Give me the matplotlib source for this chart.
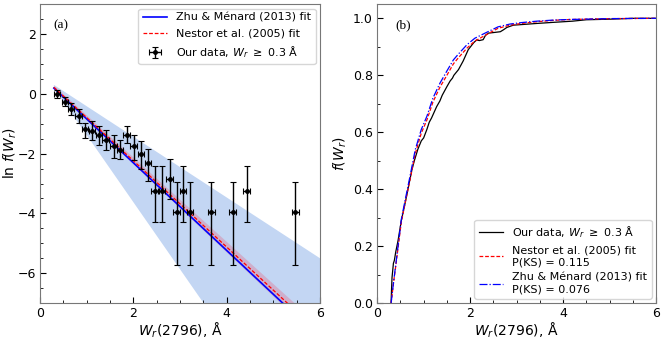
import matplotlib
matplotlib.use('Agg')
from matplotlib import pyplot as plt
from matplotlib.ticker import MultipleLocator
import numpy as np

# panel (a): binned ln f(W_r)
w_bins = [0.37, 0.54, 0.67, 0.83, 0.97, 1.12, 1.27, 1.41, 1.58, 1.72, 1.86, 2.01,
          2.17, 2.32, 2.46, 2.62, 2.78, 2.93, 3.07, 3.22, 3.67, 4.13, 4.43, 5.47]
ln_f = [0.0, -0.26, -0.5, -0.73, -1.18, -1.23, -1.37, -1.53, -1.73, -1.87, -1.37, -1.73,
        -2.0, -2.33, -3.26, -3.26, -2.84, -3.94, -3.26, -3.94, -3.94, -3.94, -3.26, -3.94]
ln_f_hi = [0.13, -0.12, -0.31, -0.51, -0.96, -0.92, -1.07, -1.2, -1.37, -1.53, -1.09, -1.38,
           -1.57, -1.83, -2.42, -2.42, -2.18, -2.96, -2.42, -2.96, -2.96, -2.96, -2.42, -2.96]
ln_f_lo = [-0.14, -0.42, -0.7, -0.96, -1.48, -1.53, -1.72, -1.87, -2.14, -2.18, -1.64, -2.2,
           -2.51, -2.92, -4.29, -4.29, -3.53, -5.72, -4.29, -5.72, -5.72, -5.72, -4.29, -5.72]
w_half = 0.07

fit_x = [0.3, 6.0]
zhu_line = [0.19, -8.17]
nestor_line = [0.22, -8.01]
nestor_band_lo = [0.16, -8.25]
nestor_band_hi = [0.28, -7.77]
zhu_band_lo = [0.2, -12.6]
zhu_band_hi = [0.3, -5.5]

# panel (b): cumulative distributions
cdf_w = [0.30, 0.31, 0.32, 0.35, 0.37, 0.40, 0.45, 0.52, 0.60, 0.70, 0.75, 0.80, 0.875,
         0.95, 1.0, 1.07, 1.12, 1.17, 1.28, 1.35, 1.40, 1.50, 1.57, 1.62, 1.65, 1.75, 1.80,
         1.85, 1.96, 2.08, 2.14, 2.20, 2.28, 2.33, 2.39, 2.50, 2.65, 2.72, 2.79, 2.93,
         3.10, 3.43, 3.80, 4.20, 4.50, 5.00, 5.50, 6.00]
cdf_data = [0.0, 0.05, 0.09, 0.14, 0.15, 0.18, 0.22, 0.29, 0.35, 0.43, 0.47, 0.50, 0.54,
            0.57, 0.58, 0.61, 0.635, 0.65, 0.69, 0.71, 0.73, 0.76, 0.78, 0.79, 0.80, 0.82,
            0.835, 0.85, 0.89, 0.915, 0.924, 0.922, 0.925, 0.94, 0.948, 0.95, 0.953, 0.96,
            0.968, 0.976, 0.978, 0.982, 0.986, 0.99, 0.995, 0.997, 1.0, 1.0]

model_w = [0.30, 0.35, 0.40, 0.52, 0.60, 0.70, 0.82, 0.95, 1.07, 1.20, 1.35, 1.50, 1.64,
           1.75, 1.93, 2.10, 2.32, 2.60, 2.86, 3.10, 3.43, 3.80, 4.15, 5.00, 6.00]
cdf_zhu = [0.0, 0.07, 0.135, 0.294, 0.36, 0.44, 0.539, 0.61, 0.656, 0.72, 0.772, 0.815,
           0.854, 0.875, 0.907, 0.93, 0.948, 0.97, 0.98, 0.985, 0.99, 0.994, 0.996, 0.999, 1.0]
cdf_nestor = [0.0, 0.068, 0.13, 0.285, 0.35, 0.428, 0.525, 0.597, 0.643, 0.706, 0.758, 0.80,
              0.84, 0.862, 0.895, 0.92, 0.94, 0.965, 0.976, 0.982, 0.988, 0.993, 0.996, 0.999, 1.0]

plt.rcParams['font.size'] = 9
plt.rcParams['mathtext.fontset'] = 'dejavusans'

fig = plt.figure(figsize=(6.64, 3.41), dpi=100)
ax1 = fig.add_axes([0.060, 0.111, 0.422, 0.877])
ax2 = fig.add_axes([0.568, 0.111, 0.420, 0.877])

ax1.fill_between(fit_x, zhu_band_lo, zhu_band_hi, color='#c3d6f3', lw=0, zorder=0)
ax1.fill_between(fit_x, nestor_band_lo, nestor_band_hi, color='#d98aa6', alpha=0.5, lw=0, zorder=1)
ax1.plot(fit_x, zhu_line, color='blue', lw=1.2, label='Zhu & Ménard (2013) fit', zorder=2)
ax1.plot(fit_x, nestor_line, color='red', lw=0.9, ls=(0, (3, 1.5)), label='Nestor et al. (2005) fit', zorder=3)
yerr = [np.array(ln_f) - np.array(ln_f_lo), np.array(ln_f_hi) - np.array(ln_f)]
ax1.errorbar(w_bins, ln_f, yerr=yerr, xerr=w_half, fmt='o', color='black', ms=2.5,
             elinewidth=1, capsize=2, capthick=0.8, zorder=4,
             label=r'Our data, $W_r\ \geq\ 0.3$ Å')
ax1.set_xlim(0, 6)
ax1.set_ylim(-7, 3)
ax1.set_xlabel(r'$W_r$(2796), Å', fontsize=10, labelpad=0)
ax1.set_ylabel(r'ln $f(W_r)$', fontsize=10)
ax1.yaxis.set_label_coords(-0.075, 0.5)
ax1.yaxis.set_major_locator(MultipleLocator(2))
ax1.yaxis.set_minor_locator(MultipleLocator(0.5))
ax1.text(0.05, 0.92, '(a)', transform=ax1.transAxes, family='Liberation Serif', fontsize=9.5)
ax1.legend(loc='upper right', fontsize=8, handlelength=2.2, borderaxespad=0.4)

ax2.plot(cdf_w, cdf_data, color='black', lw=0.9, label=r'Our data, $W_r\ \geq\ 0.3$ Å')
ax2.plot(model_w, cdf_nestor, color='red', lw=0.9, ls=(0, (3, 1.5)),
         label='Nestor et al. (2005) fit\nP(KS) = 0.115')
ax2.plot(model_w, cdf_zhu, color='blue', lw=0.9, ls='-.',
         label='Zhu & Ménard (2013) fit\nP(KS) = 0.076')
ax2.set_xlim(0, 6)
ax2.set_ylim(0, 1.05)
ax2.set_xlabel(r'$W_r$(2796), Å', fontsize=10, labelpad=0)
ax2.set_ylabel(r'$f(W_r)$', fontsize=10)
ax2.yaxis.set_label_coords(-0.1, 0.5)
ax2.yaxis.set_major_locator(MultipleLocator(0.2))
ax2.yaxis.set_minor_locator(MultipleLocator(0.1))
ax2.text(0.065, 0.92, '(b)', transform=ax2.transAxes, family='Liberation Serif', fontsize=9.5)
ax2.legend(loc='lower right', fontsize=8, handlelength=2.2, borderaxespad=0.4)

for ax in (ax1, ax2):
    ax.xaxis.set_major_locator(MultipleLocator(2))
    ax.xaxis.set_minor_locator(MultipleLocator(0.5))
    ax.tick_params(which='both', direction='in', labelsize=9, pad=3)
    ax.tick_params(which='major', length=4)
    ax.tick_params(which='minor', length=2)
    for s in ax.spines.values():
        s.set_color('#777777')

fig.savefig('out.png', dpi=100)
